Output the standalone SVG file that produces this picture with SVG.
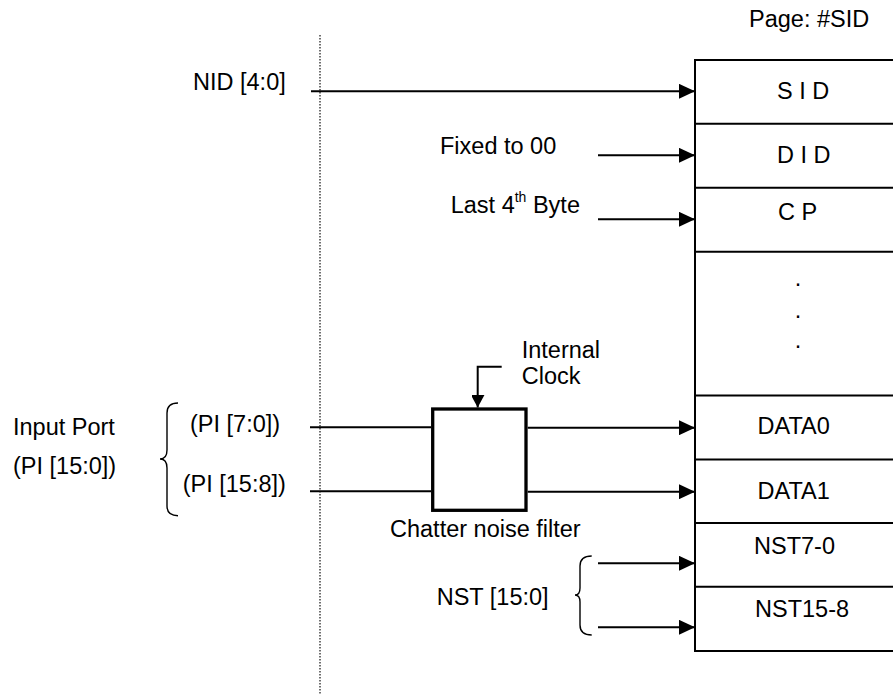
<svg xmlns="http://www.w3.org/2000/svg" width="893" height="698" viewBox="0 0 893 698">
<style>
text{font-family:"Liberation Sans",Arial,sans-serif;font-size:23.5px;fill:#000}
.ln{stroke:#000;stroke-width:2;fill:none}
.arr{stroke:#000;stroke-width:2;fill:none;marker-end:url(#ah)}
.br{stroke:#000;stroke-width:1.4;fill:none}
</style>
<defs>
<marker id="ah" markerUnits="userSpaceOnUse" markerWidth="16" markerHeight="15" refX="16" refY="7.5" orient="auto">
<path d="M0,0 L16,7.5 L0,15 Z" fill="#000"/>
</marker>
<marker id="ahs" markerUnits="userSpaceOnUse" markerWidth="14" markerHeight="13" refX="13" refY="7" orient="auto">
<path d="M0,0 L13,7 L0,14 Z" fill="#000"/>
</marker>
</defs>

<line x1="320" y1="35" x2="320" y2="695" stroke="#333" stroke-width="1.4" stroke-dasharray="1.5 1.5"/>

<g id="page-table">
<text x="749" y="27">Page: #SID</text>
<rect x="695" y="60" width="260" height="591" class="ln"/>
<line x1="695" y1="123.7" x2="900" y2="123.7" class="ln"/>
<line x1="695" y1="187.7" x2="900" y2="187.7" class="ln"/>
<line x1="695" y1="251.7" x2="900" y2="251.7" class="ln"/>
<line x1="695" y1="395.5" x2="900" y2="395.5" class="ln"/>
<line x1="695" y1="459.5" x2="900" y2="459.5" class="ln"/>
<line x1="695" y1="523" x2="900" y2="523" class="ln"/>
<line x1="695" y1="586.7" x2="900" y2="586.7" class="ln"/>
<text x="777" y="98.5">S I D</text>
<text x="777" y="162.5">D I D</text>
<text x="778" y="220">C P</text>
<text x="798" y="286" text-anchor="middle">.</text>
<text x="798" y="317.5" text-anchor="middle">.</text>
<text x="798" y="347.5" text-anchor="middle">.</text>
<text x="757.5" y="433.5">DATA0</text>
<text x="757.5" y="498.5">DATA1</text>
<text x="754" y="553.5">NST7-0</text>
<text x="755" y="617">NST15-8</text>
</g>

<g id="nid">
<text x="193" y="90">NID [4:0]</text>
</g>
<g id="fixed">
<text x="440" y="154">Fixed to 00</text>
</g>
<g id="last">
<text x="450.7" y="213.3">Last 4<tspan font-size="14" dy="-11">th</tspan><tspan dy="11"> Byte</tspan></text>
</g>

<g id="input-port">
<text x="13" y="435">Input Port</text>
<text x="13" y="473.5">(PI [15:0])</text>
<path class="br" d="M178,403 Q167,403 167,413 L167,450 Q167,459 160,459 Q167,459 167,468 L167,506 Q167,515.7 178,515.7"/>
<text x="190" y="432">(PI [7:0])</text>
<text x="182.7" y="492">(PI [15:8])</text>
</g>

<g id="filter">
<rect x="432.7" y="409" width="93.3" height="101.3" fill="#fff" stroke="#000" stroke-width="3.3"/>
<text x="390" y="537">Chatter noise filter</text>
</g>

<g id="clock">
<text x="521.7" y="358.3">Internal</text>
<text x="521.7" y="384.3">Clock</text>
</g>

<g id="nst">
<text x="436.7" y="605">NST [15:0]</text>
<path class="br" d="M591.7,556 Q580,556 580,566 L580,588 Q580,595 575,595 Q580,595 580,602 L580,625 Q580,635 591.7,635"/>
</g>

<g id="connectors">
<line x1="311" y1="91.3" x2="695" y2="91.3" class="arr"/>
<line x1="598" y1="155.3" x2="695" y2="155.3" class="arr"/>
<line x1="598" y1="219.3" x2="695" y2="219.3" class="arr"/>
<line x1="310" y1="427.3" x2="431" y2="427.3" class="ln"/>
<line x1="310" y1="491.3" x2="431" y2="491.3" class="ln"/>
<line x1="527.7" y1="427.7" x2="695" y2="427.7" class="arr"/>
<line x1="527.7" y1="491.7" x2="695" y2="491.7" class="arr"/>
<polyline points="501.7,366.7 477.7,366.7 477.7,407.5" class="ln" marker-end="url(#ahs)"/>
<line x1="598" y1="563.3" x2="695" y2="563.3" class="arr"/>
<line x1="598" y1="627.3" x2="695" y2="627.3" class="arr"/>
</g>
</svg>
